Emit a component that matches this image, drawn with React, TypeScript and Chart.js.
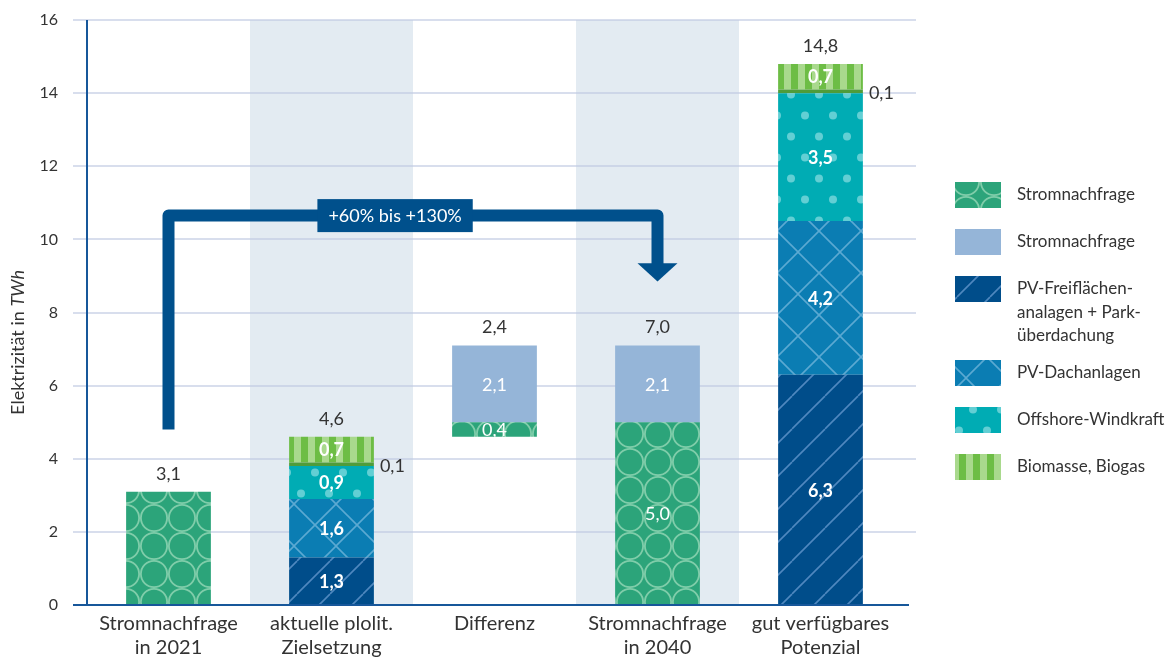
import React, { useEffect, useRef } from "react";
import { Chart, registerables } from "chart.js";

Chart.register(...registerables);

const FONT = "Lato, 'Noto Sans', sans-serif";
const TEXT = "#333333";
const AXIS = "#17579a";
const ARROW = "#00508c";

// ---------- data ----------
const categories: string[][] = [
  ["Stromnachfrage", "in 2021"],
  ["aktuelle plolit.", "Zielsetzung"],
  ["Differenz"],
  ["Stromnachfrage", "in 2040"],
  ["gut verfügbares", "Potenzial"],
];
const yMin = 0;
const yMax = 16;
const yStep = 2;

const floatBase = [null, null, 4.6, null, null];
const demandToday = [3.1, null, 0.4, 5.0, null];
const demandExtra = [null, null, 2.1, 2.1, null];
const pvOpenSpace = [null, 1.3, null, null, 6.3];
const pvRooftop = [null, 1.6, null, null, 4.2];
const offshoreWind = [null, 0.9, null, null, 3.5];
const smallRest = [null, 0.1, null, null, 0.1];
const biomass = [null, 0.7, null, null, 0.7];
const totals = [3.1, 4.6, 2.4, 7.0, 14.8];

const shadedCategories = [1, 3];
const insideLabelShown = [false, true, true, true, true];
const insideLabelBold = [false, true, false, false, true];

const arrowStartCategory = 0;
const arrowStartValue = 4.8;
const arrowLevelValue = 10.65;
const arrowEndCategory = 3;
const arrowHeadBaseValue = 9.35;
const arrowTipValue = 8.85;
const arrowText = "+60% bis +130%";
const arrowTextCategory = 1.39;

const legendLabels: string[][] = [
  ["Stromnachfrage"],
  ["Stromnachfrage"],
  ["PV-Freiflächen-", "analagen + Park-", "überdachung"],
  ["PV-Dachanlagen"],
  ["Offshore-Windkraft"],
  ["Biomasse, Biogas"],
];
const legendKeys = ["circles", "lightblue", "diagonal", "cross", "dots", "stripes"];

const fmt = (v: number) => v.toFixed(1).replace(".", ",");

function makePatterns(ctx: CanvasRenderingContext2D) {
  const tile = (w: number, h: number, draw: (g: CanvasRenderingContext2D) => void) => {
    const c = document.createElement("canvas");
    c.width = w;
    c.height = h;
    const g = c.getContext("2d")!;
    draw(g);
    return ctx.createPattern(c, "repeat")!;
  };
  const circles = tile(28, 28, (g) => {
    g.fillStyle = "#2ca47a";
    g.fillRect(0, 0, 28, 28);
    g.strokeStyle = "#80cdaa";
    g.lineWidth = 1.8;
    g.beginPath();
    g.arc(14, 14, 13.1, 0, Math.PI * 2);
    g.stroke();
  });
  const diagonal = tile(33, 33, (g) => {
    g.fillStyle = "#004d8a";
    g.fillRect(0, 0, 33, 33);
    g.strokeStyle = "#4f88bf";
    g.lineWidth = 1.6;
    for (const o of [-33, 0, 33]) {
      g.beginPath();
      g.moveTo(o, 33);
      g.lineTo(o + 33, 0);
      g.stroke();
    }
  });
  const cross = tile(42, 42, (g) => {
    g.fillStyle = "#0b7db3";
    g.fillRect(0, 0, 42, 42);
    g.strokeStyle = "#5ba9d2";
    g.lineWidth = 1.6;
    for (const o of [-42, 0, 42]) {
      g.beginPath();
      g.moveTo(o, 42);
      g.lineTo(o + 42, 0);
      g.stroke();
      g.beginPath();
      g.moveTo(o, 0);
      g.lineTo(o + 42, 42);
      g.stroke();
    }
  });
  const dots = tile(28, 42, (g) => {
    g.fillStyle = "#00acb4";
    g.fillRect(0, 0, 28, 42);
    g.fillStyle = "#62cfd4";
    for (const [cx, cy] of [[7, 10.5], [21, 31.5]]) {
      g.beginPath();
      g.arc(cx, cy, 4, 0, Math.PI * 2);
      g.fill();
    }
  });
  const stripes = tile(14, 4, (g) => {
    g.fillStyle = "#a9d98d";
    g.fillRect(0, 0, 7, 4);
    g.fillStyle = "#6dbd45";
    g.fillRect(7, 0, 7, 4);
  });
  return { circles, lightblue: "#95b5d8", diagonal, cross, dots, stripes } as Record<string, any>;
}

export default function App() {
  const ref = useRef<HTMLCanvasElement | null>(null);

  useEffect(() => {
    document.body.style.margin = "0";
    const canvas = ref.current!;
    const ctx = canvas.getContext("2d")!;
    const P = makePatterns(ctx);

    const backgroundPlugin = {
      id: "bgBands",
      beforeDatasetsDraw(chart: any) {
        const { ctx: c, chartArea: a, scales } = chart;
        const x = scales.x;
        const y = scales.y;
        const half = (x.getPixelForValue(1) - x.getPixelForValue(0)) / 2;
        c.save();
        c.fillStyle = "#e3ebf2";
        for (const i of shadedCategories) {
          const cx = x.getPixelForValue(i);
          c.fillRect(cx - half, a.top, half * 2, a.bottom - a.top);
        }
        c.strokeStyle = "rgba(190,200,225,0.6)";
        c.lineWidth = 2;
        for (const t of y.ticks) {
          if (t.value === yMin) continue;
          const py = Math.round(y.getPixelForValue(t.value));
          c.beginPath();
          c.moveTo(a.left - 14, py);
          c.lineTo(a.right + 14, py);
          c.stroke();
        }
        c.restore();
      },
    };

    const overlayPlugin = {
      id: "overlay",
      afterDatasetsDraw(chart: any) {
        const { ctx: c, chartArea: a, scales } = chart;
        const x = scales.x;
        const y = scales.y;
        c.save();
        // axes
        c.strokeStyle = AXIS;
        c.lineWidth = 2;
        c.beginPath();
        c.moveTo(a.left, a.top);
        c.lineTo(a.left, a.bottom);
        c.moveTo(a.left - 14, a.bottom);
        c.lineTo(a.right + 7, a.bottom);
        c.stroke();

        // arrow
        const x0 = x.getPixelForValue(arrowStartCategory);
        const x3 = x.getPixelForValue(arrowEndCategory);
        const yS = y.getPixelForValue(arrowStartValue);
        const yL = y.getPixelForValue(arrowLevelValue);
        const yHB = y.getPixelForValue(arrowHeadBaseValue);
        const yTip = y.getPixelForValue(arrowTipValue);
        c.strokeStyle = ARROW;
        c.fillStyle = ARROW;
        c.lineWidth = 12;
        c.lineJoin = "round";
        c.beginPath();
        c.moveTo(x0, yS);
        c.lineTo(x0, yL);
        c.lineTo(x3, yL);
        c.lineTo(x3, yHB + 1);
        c.stroke();
        c.beginPath();
        c.moveTo(x3 - 20, yHB);
        c.lineTo(x3 + 20, yHB);
        c.lineTo(x3, yTip);
        c.closePath();
        c.fill();
        // arrow label
        c.font = `18px ${FONT}`;
        const tw = c.measureText(arrowText).width;
        const lx = x.getPixelForValue(arrowTextCategory);
        c.fillRect(lx - tw / 2 - 11, yL - 16.5, tw + 22, 33);
        c.fillStyle = "#ffffff";
        c.textAlign = "center";
        c.textBaseline = "middle";
        c.fillText(arrowText, lx, yL + 1);

        // segment labels
        const insideSets = [1, 2, 3, 4, 5, 7];
        for (const d of insideSets) {
          const meta = chart.getDatasetMeta(d);
          const data = chart.data.datasets[d].data;
          meta.data.forEach((bar: any, i: number) => {
            const v = data[i];
            if (v == null || !insideLabelShown[i]) return;
            c.font = `${insideLabelBold[i] ? "bold " : ""}18px ${FONT}`;
            c.fillStyle = "#ffffff";
            c.textAlign = "center";
            c.textBaseline = "middle";
            c.fillText(fmt(v), bar.x, (bar.y + bar.base) / 2 + 1);
          });
        }
        // small segment labels (outside right)
        {
          const d = 6;
          const meta = chart.getDatasetMeta(d);
          const data = chart.data.datasets[d].data;
          meta.data.forEach((bar: any, i: number) => {
            const v = data[i];
            if (v == null) return;
            c.font = `18px ${FONT}`;
            c.fillStyle = TEXT;
            c.textAlign = "left";
            c.textBaseline = "middle";
            c.fillText(fmt(v), bar.x + bar.width / 2 + 6, (bar.y + bar.base) / 2 + 2);
          });
        }
        // totals
        totals.forEach((t, i) => {
          let top = Infinity;
          let cx = 0;
          chart.data.datasets.forEach((ds: any, d: number) => {
            if (d === 0 || ds.data[i] == null) return;
            const bar = chart.getDatasetMeta(d).data[i];
            if (bar.y < top) {
              top = bar.y;
              cx = bar.x;
            }
          });
          c.font = `18px ${FONT}`;
          c.fillStyle = TEXT;
          c.textAlign = "center";
          c.textBaseline = "alphabetic";
          c.fillText(fmt(t), cx, top - 12);
        });

        // y axis title with italic unit
        c.translate(18, (a.top + a.bottom) / 2 + 30);
        c.rotate(-Math.PI / 2);
        const part1 = "Elektrizität in ";
        const part2 = "TWh";
        const fs = 18;
        c.font = `${fs}px ${FONT}`;
        const w1 = c.measureText(part1).width;
        c.font = `italic ${fs}px ${FONT}`;
        const w2 = c.measureText(part2).width;
        const sx = -(w1 + w2) / 2;
        c.fillStyle = TEXT;
        c.textAlign = "left";
        c.textBaseline = "middle";
        c.font = `${fs}px ${FONT}`;
        c.fillText(part1, sx, 0);
        c.font = `italic ${fs}px ${FONT}`;
        c.fillText(part2, sx + w1, 0);
        c.restore();
      },
      afterDraw(chart: any) {
        const { ctx: c, chartArea: a } = chart;
        c.save();
        const sx = a.right + 53;
        let cy = 195;
        legendLabels.forEach((lines, k) => {
          c.fillStyle = P[legendKeys[k]];
          c.fillRect(sx, cy - 13, 46, 26);
          c.fillStyle = TEXT;
          c.font = `17px ${FONT}`;
          c.textAlign = "left";
          c.textBaseline = "middle";
          lines.forEach((ln, j) => c.fillText(ln, sx + 62, cy + j * 23.5));
          cy += 47 + (lines.length - 1) * 18.5;
        });
        c.restore();
      },
    };

    const mk = (label: string, data: (number | null)[], bg: any) => ({
      label,
      data,
      backgroundColor: bg,
      borderWidth: 0,
      barPercentage: 0.52,
      categoryPercentage: 1,
    });

    const zeroPad = (s: any) => {
      s.paddingTop = 0;
      s.paddingBottom = 0;
      s.paddingLeft = 0;
      s.paddingRight = 0;
    };

    const chart = new Chart(canvas, {
      type: "bar",
      data: {
        labels: categories,
        datasets: [
          mk("Basis", floatBase, "rgba(0,0,0,0)"),
          mk("Stromnachfrage", demandToday, P.circles),
          mk("Stromnachfrage", demandExtra, P.lightblue),
          mk("PV-Freiflächenanalagen + Parküberdachung", pvOpenSpace, P.diagonal),
          mk("PV-Dachanlagen", pvRooftop, P.cross),
          mk("Offshore-Windkraft", offshoreWind, P.dots),
          mk("Sonstige", smallRest, "#4f9c3a"),
          mk("Biomasse, Biogas", biomass, P.stripes),
        ],
      },
      options: {
        responsive: false,
        animation: false,
        events: [],
        layout: { padding: { top: 20, right: 271, left: 0, bottom: 0 } },
        plugins: { legend: { display: false }, tooltip: { enabled: false } },
        scales: {
          x: {
            stacked: true,
            grid: { display: false, drawTicks: false },
            border: { display: false },
            ticks: {
              color: TEXT,
              font: { family: FONT, size: 20, lineHeight: 1.2 },
              padding: 7,
              maxRotation: 0,
              autoSkip: false,
            },
            afterFit: (s: any) => {
              s.height = 52;
              zeroPad(s);
            },
          },
          y: {
            stacked: true,
            min: yMin,
            max: yMax,
            grid: { display: false, drawTicks: false },
            border: { display: false },
            ticks: {
              stepSize: yStep,
              color: TEXT,
              font: { family: FONT, size: 16 },
              padding: 29,
            },
            afterFit: (s: any) => {
              s.width = 87;
              zeroPad(s);
            },
          },
        },
      },
      plugins: [backgroundPlugin, overlayPlugin],
    });
    return () => chart.destroy();
  }, []);

  return (
    <div style={{ width: 1173, height: 657, background: "#ffffff" }}>
      <canvas ref={ref} width={1173} height={657} style={{ display: "block" }} />
    </div>
  );
}
